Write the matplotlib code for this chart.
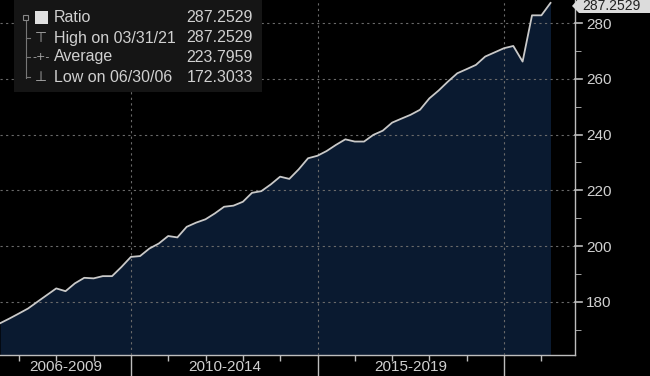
import numpy as np
import pandas as pd
import matplotlib.pyplot as plt
from matplotlib.patches import Rectangle, Polygon

# ---- data (quarter-end values, 06/30/06 .. 03/31/21) ----
ratio = [172.30, 174.0, 175.8, 177.6, 180.0, 182.4, 184.8, 183.8, 186.6, 188.6,
         188.4, 189.2, 189.2, 192.5, 196.1, 196.4, 199.1, 200.9, 203.6, 203.1,
         206.9, 208.4, 209.6, 211.7, 214.1, 214.5, 215.9, 219.1, 219.7, 222.1,
         224.9, 224.1, 227.5, 231.5, 232.4, 234.1, 236.3, 238.3, 237.5, 237.5,
         239.9, 241.4, 244.3, 245.7, 247.1, 248.9, 253.0, 255.8, 259.0, 262.0,
         263.5, 265.0, 268.0, 269.5, 271.0, 271.8, 266.2, 282.8, 282.8, 287.2529]
first_date = "2006-06-30"
period_labels = ["2006-2009", "2010-2014", "2015-2019"]
period_bounds = [2010, 2015, 2020]
y_ticks = [180, 200, 220, 240, 260, 280]
legend_rows = [("Ratio", "287.2529"), ("High on 03/31/21", "287.2529"),
               ("Average", "223.7959"), ("Low on 06/30/06", "172.3033")]
last_value = "287.2529"

dates = pd.date_range(first_date, periods=len(ratio), freq="QE")
xyear = dates.year + (dates.dayofyear - 1) / 365.0

W, H = 650, 376
fig = plt.figure(figsize=(W / 100, H / 100), dpi=100)
fig.patch.set_facecolor("black")
plt.rcParams['font.family'] = ['Liberation Sans', 'DejaVu Sans']

ax = fig.add_axes([0, 21 / H, 575 / W, 355 / H])
ax.set_facecolor("black")
x0, x1 = 2006.49, 2021.9
y0, y1 = 160.9, 288.3
ax.set_xlim(x0, x1)
ax.set_ylim(y0, y1)

ax.fill_between(xyear, ratio, y0, color="#0a1a30", lw=0, zorder=2)
ax.plot(xyear, ratio, color="#c9c9c9", lw=1.3, zorder=3)

txtc = "#d0d0d0"
for s in ["left", "top"]:
    ax.spines[s].set_visible(False)
for s in ["bottom", "right"]:
    ax.spines[s].set_color("#bdbdbd")
    ax.spines[s].set_linewidth(1.0)

ax.yaxis.tick_right()
ax.set_yticks(y_ticks)
ax.set_yticklabels([str(v) for v in y_ticks])
ax.set_yticks(np.arange(170, 290, 20), minor=True)
ax.tick_params(axis="y", which="major", direction="in", length=0, pad=8,
               labelsize=11, labelcolor=txtc)
ax.tick_params(axis="y", which="minor", direction="out", length=4, color="#bdbdbd")
for v in y_ticks:
    ax.plot([1.0, 1.012], [v, v], transform=ax.get_yaxis_transform(),
            color="#bdbdbd", lw=1.2, clip_on=False, zorder=5)

ax.set_xticks(period_bounds)
ax.set_xticklabels([])
ax.set_xticks(range(2007, 2022), minor=True)
ax.tick_params(axis="x", which="major", direction="out", length=15, color="#bdbdbd", width=1)
ax.tick_params(axis="x", which="minor", direction="out", length=4, color="#bdbdbd", width=1)

ax.grid(which="major", color="#6a6a6a", linestyle=(0, (2, 3)), lw=0.8, zorder=4)
ax.set_axisbelow(False)

# period labels centred on visible span
edges = [x0] + period_bounds
for lab, a, b in zip(period_labels, edges[:-1], edges[1:]):
    ax.text((a + b) / 2, -12 / 355, lab, transform=ax.get_xaxis_transform(),
            ha="center", va="center", fontsize=11, color=txtc)

# legend box
fx = lambda px: px / W
fy = lambda py: 1 - py / H
fig.patches.append(Rectangle((fx(14), fy(92)), fx(248), 92 / H, transform=fig.transFigure,
                             facecolor="#151515", edgecolor="none", zorder=10))
rows_y = [18, 38, 57, 77]
for (lab, val), ry in zip(legend_rows, rows_y):
    fig.text(fx(54), fy(ry), lab, fontsize=11.5, color=txtc, va="center", ha="left", zorder=11)
    fig.text(fx(253), fy(ry), val, fontsize=11.5, color=txtc, va="center", ha="right", zorder=11)
fig.patches.append(Rectangle((fx(35), fy(24)), fx(13), 13 / H, transform=fig.transFigure,
                             facecolor="#e0e0e0", edgecolor="none", zorder=11))
fig.patches.append(Rectangle((fx(23), fy(20)), fx(5), 5 / H, transform=fig.transFigure,
                             facecolor="none", edgecolor="#888888", lw=0.8, zorder=11))
fig.lines.append(plt.Line2D([fx(25.5), fx(25.5)], [fy(21), fy(78)], transform=fig.transFigure,
                            color="#777777", lw=0.8, zorder=11))
for ry in [38, 57, 77]:
    fig.lines.append(plt.Line2D([fx(25.5), fx(30)], [fy(ry), fy(ry)], transform=fig.transFigure,
                                color="#777777", lw=0.8, zorder=11))
fig.text(fx(41), fy(38), "⊤", fontsize=10, color="#aaaaaa", ha="center", va="center",
         family="DejaVu Sans", zorder=11)
fig.text(fx(41), fy(57), "-+-", fontsize=8, color="#aaaaaa", ha="center", va="center",
         family="DejaVu Sans", zorder=11)
fig.text(fx(41), fy(77), "⊥", fontsize=10, color="#aaaaaa", ha="center", va="center",
         family="DejaVu Sans", zorder=11)

# last value tag
tag = Polygon([[fx(572), fy(6)], [fx(579), fy(13)], [fx(652), fy(13)], [fx(652), fy(-2)],
               [fx(579), fy(-2)]], closed=True, transform=fig.transFigure,
              facecolor="#dcdcdc", edgecolor="none", zorder=12)
fig.patches.append(tag)
fig.text(fx(582), fy(6.5), last_value, fontsize=10, color="#222222", ha="left", va="center", zorder=13)

fig.savefig("out.png", dpi=100, facecolor="black")
